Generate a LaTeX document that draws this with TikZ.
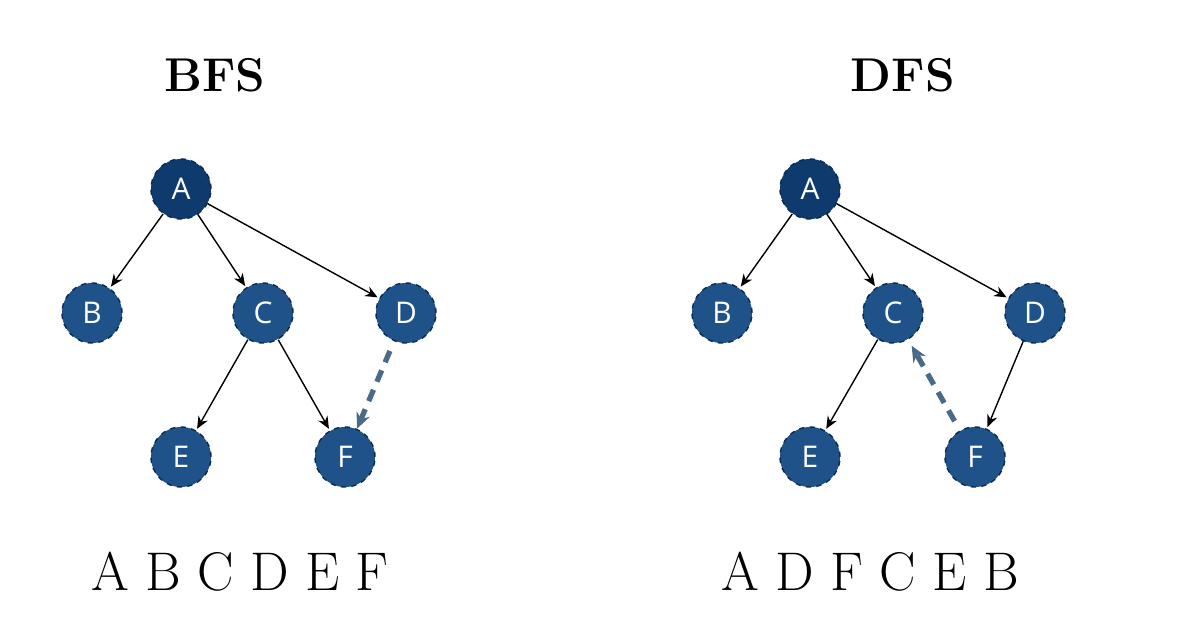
\documentclass[tikz,border=0pt]{standalone}
\usepackage{fontspec}
\setsansfont{Open Sans}
\usetikzlibrary{arrows.meta}
\begin{document}
\begin{tikzpicture}[x=0.02cm,y=-0.02cm,
 vtx/.style={circle,minimum size=1.2cm,inner sep=0pt,fill=nodeblue,draw=nodeborder,dashed,line width=0.8pt,text=white,font=\sffamily\fontsize{17}{20}\selectfont},
 root/.style={vtx,fill=rootblue},
 edge/.style={-{Stealth[length=7pt,width=6pt]},line width=0.8pt,shorten >=1pt},
 back/.style={-{Stealth[length=9pt,width=8pt]},line width=3pt,draw=dashblue,dash pattern=on 7pt off 5pt},
 title/.style={font=\fontsize{27}{30}\selectfont\bfseries},
 seq/.style={font=\fontsize{31}{34}\selectfont}]
\definecolor{nodeblue}{HTML}{1F5288}
\definecolor{rootblue}{HTML}{0E3A6E}
\definecolor{nodeborder}{HTML}{0A2A50}
\definecolor{dashblue}{HTML}{4A6A88}
\useasboundingbox (0,0) rectangle (1196,628);
% BFS
\node[title] (t1) at (215,75) {BFS};
\node[root] (a1) at (181,189) {A};
\node[vtx] (b1) at (92,313) {B};
\node[vtx] (c1) at (263,313) {C};
\node[vtx] (d1) at (406,313) {D};
\node[vtx] (e1) at (181,457) {E};
\node[vtx] (f1) at (345,457) {F};
\draw[edge] (a1) -- (b1);
\draw[edge] (a1) -- (c1);
\draw[edge] (a1) -- (d1);
\draw[edge] (c1) -- (e1);
\draw[edge] (c1) -- (f1);
\draw[back,shorten <=6pt] (d1) -- (f1);
\node[seq] (s1) at (240,572) {A B C D E F};
% DFS
\node[title] (t2) at (903,75) {DFS};
\node[root] (a2) at (810,189) {A};
\node[vtx] (b2) at (722,313) {B};
\node[vtx] (c2) at (893,313) {C};
\node[vtx] (d2) at (1035,313) {D};
\node[vtx] (e2) at (810,457) {E};
\node[vtx] (f2) at (975,457) {F};
\draw[edge] (a2) -- (b2);
\draw[edge] (a2) -- (c2);
\draw[edge] (a2) -- (d2);
\draw[edge] (c2) -- (e2);
\draw[edge] (d2) -- (f2);
\draw[back,shorten <=6pt,shorten >=4pt] (f2) -- (c2);
\node[seq] (s2) at (870,572) {A D F C E B};
\end{tikzpicture}
\end{document}
